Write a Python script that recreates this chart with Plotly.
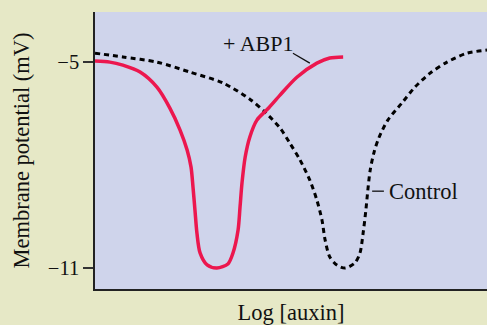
import plotly.graph_objects as go

# Log [auxin] (arbitrary units) and membrane potential (mV)
abp1_x = [0.00, 0.38, 0.71, 1.15, 1.58, 1.91, 2.17, 2.35, 2.45, 2.50, 2.55, 2.60, 2.68, 2.86, 3.11,
          3.39, 3.52, 3.65, 3.70, 3.75, 3.83, 3.95, 4.13, 4.41, 4.72, 5.15, 5.66, 5.99, 6.33]
abp1_y = [-4.97, -5.00, -5.09, -5.29, -5.73, -6.34, -6.98, -7.56, -8.06, -8.64, -9.31, -9.98, -10.56, -10.91, -11.00,
          -10.88, -10.56, -9.89, -9.22, -8.52, -7.77, -7.18, -6.69, -6.36, -5.96, -5.44, -5.03, -4.88, -4.85]

control_x = [0.00, 0.71, 1.58, 2.42, 3.27, 3.95, 4.34, 4.72, 4.97, 5.23, 5.48, 5.66, 5.79, 5.87, 5.99, 6.17, 6.38,
             6.63, 6.76, 6.84, 6.91, 6.96, 7.02, 7.12, 7.24, 7.47, 7.83, 8.16, 8.55, 8.98, 9.49, 10.00]
control_y = [-4.74, -4.85, -5.00, -5.29, -5.61, -6.08, -6.46, -6.92, -7.36, -7.85, -8.44, -9.02, -9.60, -10.18, -10.68, -10.91, -11.00,
             -10.85, -10.56, -9.98, -9.31, -8.73, -8.15, -7.62, -7.21, -6.69, -6.19, -5.73, -5.32, -5.00, -4.74, -4.65]

y_ticks = [-5, -11]
y_tick_labels = ["\u22125", "\u221211"]

FONT = "Liberation Serif"
fig = go.Figure()
fig.add_trace(go.Scatter(x=control_x, y=control_y, mode="lines",
                         line=dict(color="black", width=3, dash="5px,4px", shape="spline", smoothing=0.8),
                         showlegend=False, hoverinfo="skip"))
fig.add_trace(go.Scatter(x=abp1_x, y=abp1_y, mode="lines",
                         line=dict(color="#ec174e", width=3.5, shape="spline", smoothing=0.8),
                         showlegend=False, hoverinfo="skip"))

# labels
fig.add_annotation(x=4.16, y=-4.45, text="+ ABP1", showarrow=False, xanchor="center", yanchor="middle",
                   font=dict(family=FONT, size=22, color="#111"))
fig.add_shape(type="line", x0=5.05, y0=-4.74, x1=5.48, y1=-5.03, line=dict(color="#111", width=1.3))
fig.add_shape(type="line", x0=7.07, y0=-8.76, x1=7.37, y1=-8.76, line=dict(color="#111", width=1.3))
fig.add_annotation(x=7.46, y=-8.76, text="Control", showarrow=False, xanchor="left", yanchor="middle",
                   font=dict(family=FONT, size=22.5, color="#111"))

fig.update_layout(
    width=487, height=325,
    margin=dict(l=95, r=0, t=12, b=36),
    paper_bgcolor="#e6e8c6", plot_bgcolor="#cfd4eb",
    font=dict(family=FONT, size=20, color="#111"),
    xaxis=dict(range=[0, 10], showgrid=False, zeroline=False, showticklabels=False, ticks="",
               showline=True, linecolor="#222", linewidth=1.5,
               title=dict(text="Log [auxin]", font=dict(size=22.5), standoff=14)),
    yaxis=dict(range=[-11.61, -3.54], showgrid=False, zeroline=False, tickvals=y_ticks, ticktext=y_tick_labels,
               ticks="outside", ticklen=10, tickwidth=1.5, tickcolor="#333",
               showline=True, linecolor="#222", linewidth=1.5, tickfont=dict(size=20.5),
               title=dict(text="Membrane potential (mV)", font=dict(size=22.5), standoff=12)),
)
fig.write_html("out.html", config={"displayModeBar": False},
               post_script="document.body.style.margin='0';document.body.style.padding='0';")
